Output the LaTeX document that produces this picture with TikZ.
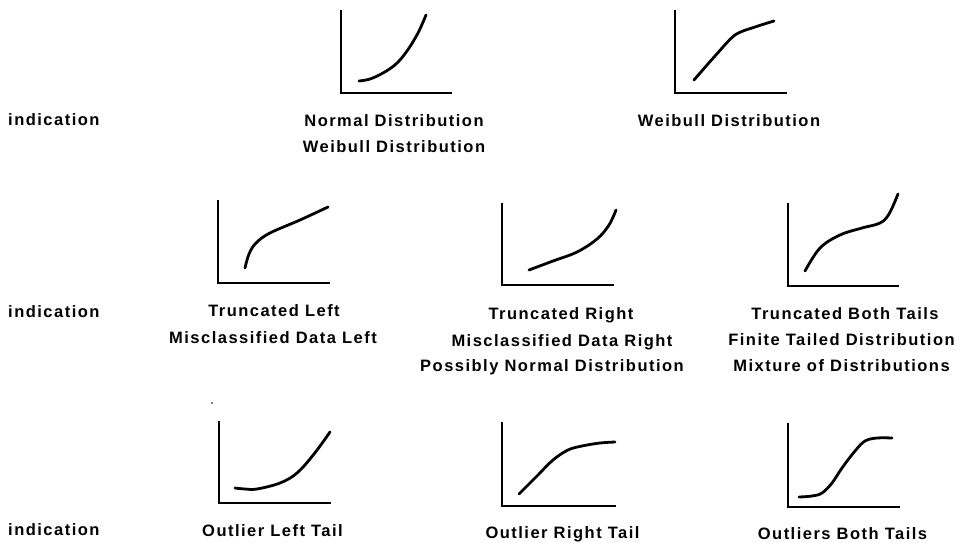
\documentclass[tikz,border=0pt]{standalone}
\usepackage{fontspec}
\newfontfamily\plotfont[LetterSpace=9]{Liberation Sans Bold}
\begin{document}
\begin{tikzpicture}[x=1pt,y=-1pt,
  lbl/.style={anchor=base,inner sep=0pt,font=\plotfont\fontsize{16.5}{19}\selectfont},
  axis/.style={line width=1.6pt},
  crv/.style={line width=2.8pt,line cap=round,line join=round}]
\useasboundingbox (0,0) rectangle (962,542);
% row labels
\node[lbl,anchor=base west] (ind1) at (8,125) {indication};
\node[lbl,anchor=base west] (ind2) at (8,317) {indication};
\node[lbl,anchor=base west] (ind3) at (8,535) {indication};
% chart 1
\coordinate (a1) at (341,10); \coordinate (o1) at (341,93); \coordinate (e1) at (452,93);
\draw[axis] (a1) -- (o1) -- (e1);
\draw[crv] plot[smooth,tension=0.6] coordinates {(359,81) (370,79) (383,73) (396,64) (407,51) (418,33) (426,15)};
\node[lbl] (t1a) at (394,126) {Normal Distribution};
\node[lbl] (t1b) at (394,152.5) {Weibull Distribution};
% chart 2
\coordinate (a2) at (675,10); \coordinate (o2) at (675,93); \coordinate (e2) at (787,93);
\draw[axis] (a2) -- (o2) -- (e2);
\draw[crv] plot[smooth,tension=0.5] coordinates {(694,80) (715,56) (735,35) (755,27) (774,21)};
\node[lbl] (t2) at (729,126) {Weibull Distribution};
% chart 3
\coordinate (a3) at (218,200); \coordinate (o3) at (218,283); \coordinate (e3) at (330,283);
\draw[axis] (a3) -- (o3) -- (e3);
\draw[crv] plot[smooth,tension=0.6] coordinates {(245,268) (249,254) (256,243) (270,233) (300,220) (328,207)};
\node[lbl] (t3a) at (274,316.5) {Truncated Left};
\node[lbl] (t3b) at (273,343) {Misclassified Data Left};
% chart 4
\coordinate (a4) at (502,203); \coordinate (o4) at (502,285); \coordinate (e4) at (614,285);
\draw[axis] (a4) -- (o4) -- (e4);
\draw[crv] plot[smooth,tension=0.6] coordinates {(529,270) (553,261) (577,252) (597,239) (609,225) (616,210)};
\node[lbl] (t4a) at (561,319) {Truncated Right};
\node[lbl] (t4b) at (562,346) {Misclassified Data Right};
\node[lbl] (t4c) at (552,371.5) {Possibly Normal Distribution};
% chart 5
\coordinate (a5) at (788,203); \coordinate (o5) at (788,286); \coordinate (e5) at (899,286);
\draw[axis] (a5) -- (o5) -- (e5);
\draw[crv] plot[smooth,tension=0.6] coordinates {(805,271) (820,248) (840,235) (862,228) (880,223) (889,214) (898,194)};
\node[lbl] (t5a) at (845,319) {Truncated Both Tails};
\node[lbl] (t5b) at (841.5,345) {Finite Tailed Distribution};
\node[lbl] (t5c) at (841.5,371) {Mixture of Distributions};
% chart 6
\coordinate (a6) at (219,421); \coordinate (o6) at (219,503); \coordinate (e6) at (331,503);
\draw[axis] (a6) -- (o6) -- (e6);
\draw[crv] plot[smooth,tension=0.6] coordinates {(235,488) (245,489) (257,489) (280,483) (297,473) (314,454) (330,432)};
\fill (212,403) circle (0.8);
\node[lbl] (t6) at (272.5,536) {Outlier Left Tail};
% chart 7
\coordinate (a7) at (502,422); \coordinate (o7) at (502,506); \coordinate (e7) at (616,506);
\draw[axis] (a7) -- (o7) -- (e7);
\draw[crv] plot[smooth,tension=0.6] coordinates {(519,494) (537,476) (553,460) (568,450) (582,446) (600,443) (615,442)};
\node[lbl] (t7) at (562.5,538.5) {Outlier Right Tail};
% chart 8
\coordinate (a8) at (788,423); \coordinate (o8) at (788,507); \coordinate (e8) at (900,507);
\draw[axis] (a8) -- (o8) -- (e8);
\draw[crv] plot[smooth,tension=0.6] coordinates {(799,497) (812,496) (822,493) (832,483) (842,468) (855,451) (865,441) (877,438) (892,438)};
\node[lbl] (t8) at (842.5,539) {Outliers Both Tails};
\end{tikzpicture}
\end{document}
